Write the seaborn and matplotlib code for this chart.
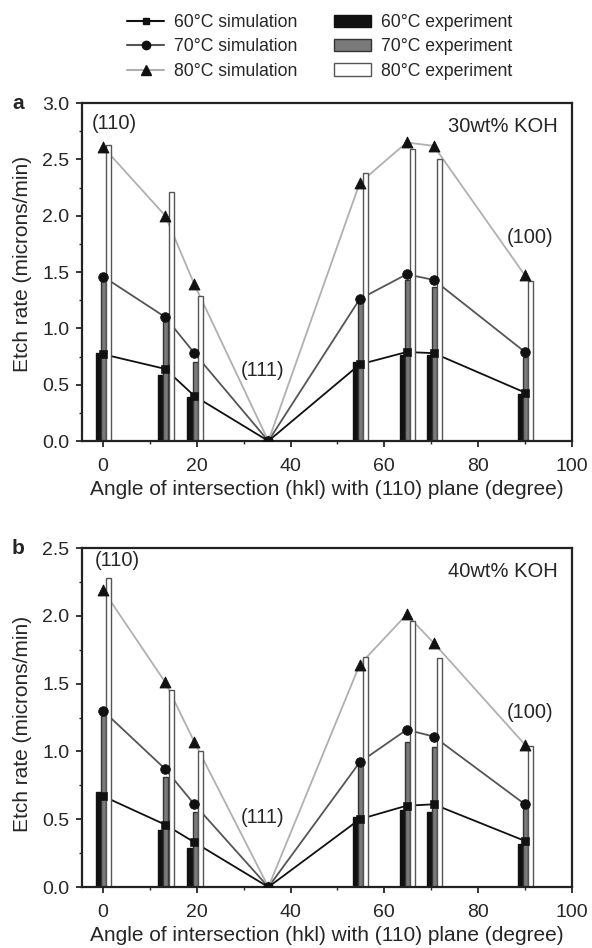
import numpy as np
import pandas as pd
import matplotlib
matplotlib.use("Agg")
import matplotlib.pyplot as plt
import seaborn as sns
from matplotlib.lines import Line2D
from matplotlib.patches import Patch

# angle between (hkl) and (110), degrees
angles = [0, 13.26, 19.47, 35.26, 54.74, 64.76, 70.53, 90]

# panel a: 30wt% KOH
a_sim60 = [0.77, 0.64, 0.40, 0.0, 0.68, 0.79, 0.78, 0.43]
a_sim70 = [1.46, 1.10, 0.78, 0.0, 1.26, 1.48, 1.43, 0.79]
a_sim80 = [2.61, 2.00, 1.39, 0.0, 2.29, 2.65, 2.62, 1.47]
a_exp60 = [0.78, 0.59, 0.39, 0.0, 0.70, 0.76, 0.76, 0.42]
a_exp70 = [1.45, 1.07, 0.70, 0.0, 1.26, 1.43, 1.37, 0.75]
a_exp80 = [2.63, 2.21, 1.29, 0.0, 2.38, 2.59, 2.50, 1.42]

# panel b: 40wt% KOH
b_sim60 = [0.67, 0.46, 0.33, 0.0, 0.50, 0.60, 0.61, 0.34]
b_sim70 = [1.30, 0.87, 0.61, 0.0, 0.92, 1.16, 1.11, 0.61]
b_sim80 = [2.19, 1.51, 1.07, 0.0, 1.64, 2.01, 1.80, 1.05]
b_exp60 = [0.70, 0.42, 0.29, 0.0, 0.52, 0.57, 0.55, 0.32]
b_exp70 = [1.27, 0.81, 0.55, 0.0, 0.92, 1.07, 1.03, 0.59]
b_exp80 = [2.28, 1.45, 1.00, 0.0, 1.70, 1.96, 1.69, 1.04]

sns.set_style("ticks")
plt.rcParams['font.family'] = ['Liberation Sans', 'DejaVu Sans']

line_cols = ['#111111', '#555555', '#b0b0b0']
markers = ['s', 'o', '^']
msizes = [30, 48, 62]
bar_face = ['#111111', '#7a7a7a', '#ffffff']
bar_edge = ['#111111', '#333333', '#555555']
bar_off = [-0.95, 0.15, 1.25]
bar_w = 1.05


def draw_panel(ax, sims, exps, ymax, kohlabel, kohy, labpos, ylab_y):
    for i, s in enumerate(sims):
        sns.lineplot(x=angles, y=s, ax=ax, color=line_cols[i], lw=1.3, zorder=1)
    for i, e in enumerate(exps):
        ax.bar(np.array(angles) + bar_off[i], e, width=bar_w, color=bar_face[i],
               edgecolor=bar_edge[i], linewidth=1.0, zorder=2)
    for i, s in enumerate(sims):
        sns.scatterplot(x=angles, y=s, ax=ax, marker=markers[i], s=msizes[i],
                        color='#111111', edgecolor='#111111', zorder=3)
    ax.set_xlim(-4.5, 100)
    ax.set_ylim(0, ymax)
    ax.set_xticks(np.arange(0, 101, 20))
    ax.set_xticks(np.arange(10, 100, 20), minor=True)
    ax.set_yticks(np.arange(0, ymax + 0.01, 0.5))
    ax.set_yticks(np.arange(0.25, ymax, 0.5), minor=True)
    ax.yaxis.set_major_formatter(matplotlib.ticker.FormatStrFormatter('%.1f'))
    ax.tick_params(which='major', direction='out', length=4, width=1.3, labelsize=14)
    ax.tick_params(axis='x', which='major', pad=8)
    ax.tick_params(axis='y', which='major', pad=5)
    ax.tick_params(which='minor', direction='out', length=2.5, width=1.0)
    for sp in ax.spines.values():
        sp.set_visible(True)
        sp.set_linewidth(1.6)
        sp.set_color('#222222')
    ax.set_xlabel('Angle of intersection (hkl) with (110) plane (degree)', fontsize=15, labelpad=4)
    ax.set_ylabel('Etch rate (microns/min)', fontsize=15)
    ax.yaxis.set_label_coords(-0.102, ylab_y)
    ax.text(97, kohy, kohlabel, ha='right', va='center', fontsize=14.5)
    for txt, (x, y) in labpos.items():
        ax.text(x, y, txt, ha='center', va='center', fontsize=14.5)


fig = plt.figure(figsize=(5.92, 9.48), dpi=100)
ax_a = fig.add_axes([0.1385, 0.5348, 0.8275, 0.3565])
ax_b = fig.add_axes([0.1385, 0.0643, 0.8275, 0.3576])

draw_panel(ax_a, [a_sim60, a_sim70, a_sim80], [a_exp60, a_exp70, a_exp80], 3.0, '30wt% KOH', 2.79,
           {'(110)': (2.3, 2.82), '(111)': (34, 0.63), '(100)': (91, 1.81)}, 0.525)
draw_panel(ax_b, [b_sim60, b_sim70, b_sim80], [b_exp60, b_exp70, b_exp80], 2.5, '40wt% KOH', 2.33,
           {'(110)': (3, 2.41), '(111)': (34, 0.51), '(100)': (91, 1.29)}, 0.48)

fig.text(0.03, 0.8913, 'a', fontsize=15, fontweight='bold', ha='center', va='center')
fig.text(0.03, 0.4219, 'b', fontsize=15, fontweight='bold', ha='center', va='center')

handles = [
    Line2D([], [], color=line_cols[0], marker='s', mfc='#111111', mec='#111111', ms=5, lw=1.5),
    Line2D([], [], color=line_cols[1], marker='o', mfc='#111111', mec='#111111', ms=6, lw=1.5),
    Line2D([], [], color=line_cols[2], marker='^', mfc='#111111', mec='#111111', ms=7, lw=1.5),
    Patch(facecolor=bar_face[0], edgecolor=bar_edge[0]),
    Patch(facecolor=bar_face[1], edgecolor=bar_edge[1]),
    Patch(facecolor=bar_face[2], edgecolor=bar_edge[2]),
]
labels = ['60°C simulation', '70°C simulation', '80°C simulation',
          '60°C experiment', '70°C experiment', '80°C experiment']
fig.legend(handles, labels, loc='upper center', bbox_to_anchor=(0.54, 1.002), ncol=2,
           frameon=False, fontsize=12.7, handlelength=2.1, columnspacing=2.1,
           labelspacing=0.42, handletextpad=0.55)

fig.savefig('out.png', dpi=100)
